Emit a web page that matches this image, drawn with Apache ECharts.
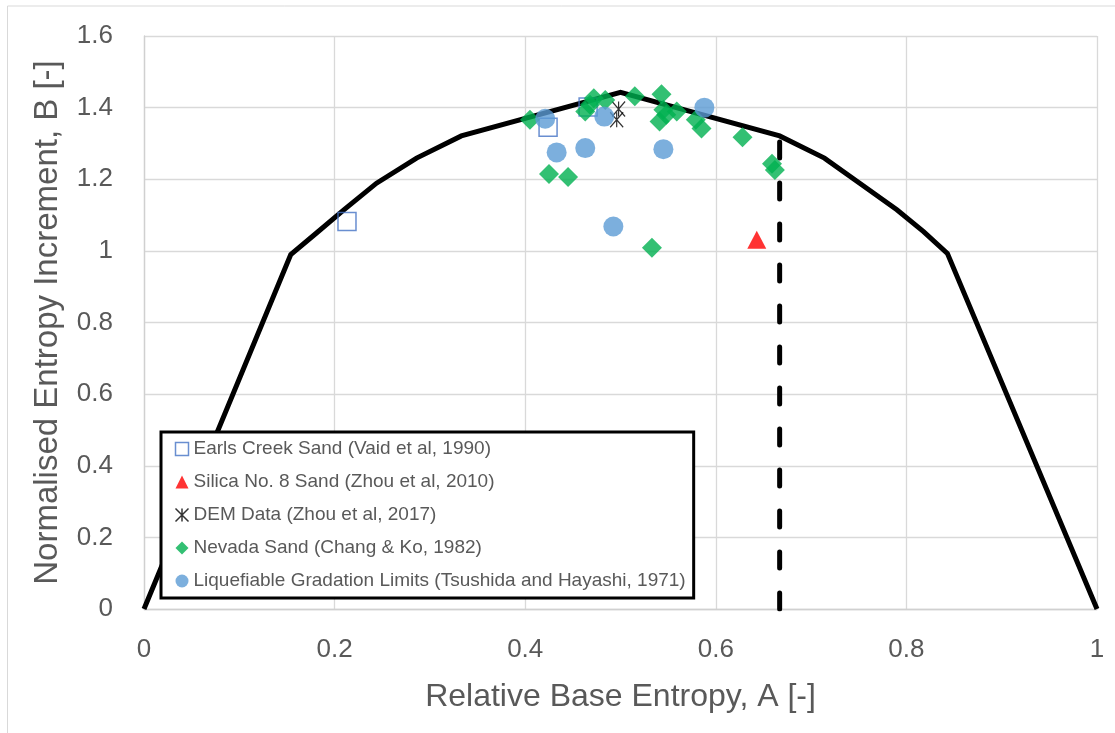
<!DOCTYPE html>
<html>
<head>
<meta charset="utf-8">
<script src="https://cdn.jsdelivr.net/npm/echarts@6/dist/echarts.min.js"></script>
<style>
html,body{margin:0;padding:0;background:#fff;}
#chart{width:1115px;height:733px;}
</style>
</head>
<body>
<div id="chart"></div>
<script>
// ---- Data ----
const xTicks = ['0', '0.2', '0.4', '0.6', '0.8', '1'];
const yTicks = ['0', '0.2', '0.4', '0.6', '0.8', '1', '1.2', '1.4', '1.6'];

// Boundary curve (A, B)
const curveA = [0, 0.154, 0.181, 0.21, 0.244, 0.286, 0.333, 0.5, 0.667, 0.714, 0.751, 0.79, 0.818, 0.843, 1];
const curveB = [0, 0.99, 1.05, 1.115, 1.189, 1.259, 1.321, 1.443, 1.321, 1.259, 1.189, 1.115, 1.054, 0.993, 0];

// Vertical dashed limit
const limitA = [0.667, 0.667];
const limitB = [0, 1.321];

// Earls Creek Sand (Vaid et al, 1990)
const earlsA = [0.213, 0.424, 0.466];
const earlsB = [1.082, 1.345, 1.402];

// Silica No. 8 Sand (Zhou et al, 2010)
const silicaA = [0.643];
const silicaB = [1.031];

// DEM Data (Zhou et al, 2017)
const demA = [0.498, 0.496];
const demB = [1.396, 1.366];

// Nevada Sand (Chang & Ko, 1982)
const nevadaA = [0.405, 0.425, 0.445, 0.463, 0.468, 0.472, 0.484, 0.515, 0.533, 0.541, 0.543, 0.545, 0.548, 0.559, 0.579, 0.585, 0.628, 0.659, 0.662];
const nevadaB = [1.366, 1.215, 1.206, 1.389, 1.408, 1.426, 1.421, 1.432, 1.009, 1.361, 1.437, 1.394, 1.38, 1.389, 1.366, 1.342, 1.317, 1.243, 1.226];

// Liquefiable Gradation Limits (Tsushida and Hayashi, 1971)
const liqA = [0.421, 0.433, 0.463, 0.483, 0.4925, 0.545, 0.588];
const liqB = [1.369, 1.275, 1.287, 1.375, 1.068, 1.284, 1.400];

const names = [
  'Earls Creek Sand (Vaid et al, 1990)',
  'Silica No. 8 Sand (Zhou et al, 2010)',
  'DEM Data (Zhou et al, 2017)',
  'Nevada Sand (Chang & Ko, 1982)',
  'Liquefiable Gradation Limits (Tsushida and Hayashi, 1971)'
];

const zip = (a, b) => a.map((v, i) => [v, b[i]]);

const FONT = 'Liberation Sans';
const TXT = '#595959';
const GRID = '#d9d9d9';

const chart = echarts.init(document.getElementById('chart'), null, {renderer: 'canvas'});

const option = {
  backgroundColor: '#fff',
  animation: false,
  textStyle: {fontFamily: FONT},
  graphic: [{
    type: 'rect',
    shape: {x: 7.5, y: 6, width: 1130, height: 750},
    style: {fill: 'none', stroke: '#d9d9d9', lineWidth: 1},
    silent: true,
    z: -10
  }],
  grid: {left: 144, right: 18, top: 36, bottom: 124, containLabel: false},
  xAxis: {
    type: 'value', min: 0, max: 1, interval: 0.2,
    name: 'Relative Base Entropy, A [-]',
    nameLocation: 'middle', nameGap: 72,
    nameTextStyle: {fontFamily: FONT, fontSize: 32, color: TXT},
    axisLine: {show: true, lineStyle: {color: '#d0d0d0', width: 1.3}},
    axisTick: {show: false},
    axisLabel: {
      fontFamily: FONT, fontSize: 26, color: TXT, margin: 28,
      formatter: (v) => xTicks[Math.round(v / 0.2)]
    },
    splitLine: {show: true, lineStyle: {color: GRID, width: 1.3}}
  },
  yAxis: {
    type: 'value', min: 0, max: 1.6, interval: 0.2,
    name: 'Normalised Entropy Increment, B [-]',
    nameLocation: 'middle', nameGap: 80, nameRotate: 90,
    nameTextStyle: {fontFamily: FONT, fontSize: 33, color: TXT},
    axisLine: {show: true, lineStyle: {color: '#d0d0d0', width: 1.3}},
    axisTick: {show: false},
    axisLabel: {
      fontFamily: FONT, fontSize: 26, color: TXT, margin: 31,
      formatter: (v) => yTicks[Math.round(v / 0.2)]
    },
    splitLine: {show: true, lineStyle: {color: GRID, width: 1.3}}
  },
  legend: {
    data: names,
    orient: 'vertical',
    left: 161, top: 432,
    padding: [7, 8, 7, 12],
    itemGap: 13,
    itemWidth: 13, itemHeight: 13,
    itemStyle: {borderWidth: 1.5},
    backgroundColor: '#fff',
    borderColor: '#000', borderWidth: 3, borderRadius: 0,
    textStyle: {fontFamily: FONT, fontSize: 19, color: TXT, lineHeight: 20, padding: [0, 0, 0, 0]},
    z: 10
  },
  series: [
    {
      name: 'curve', type: 'line', data: zip(curveA, curveB),
      showSymbol: false, symbol: 'none', silent: true,
      lineStyle: {color: '#000', width: 5, cap: 'butt', join: 'miter'},
      z: 1
    },
    {
      name: 'limit', type: 'line', data: zip(limitA, limitB),
      showSymbol: false, symbol: 'none', silent: true,
      lineStyle: {color: '#000', width: 5, type: [16, 25], cap: 'round'},
      z: 1
    },
    {
      name: names[0], type: 'scatter', data: zip(earlsA, earlsB),
      symbol: 'rect', symbolSize: 18,
      itemStyle: {color: 'rgba(255,255,255,0)', borderColor: '#4472C4', borderWidth: 1.5},
      z: 3
    },
    {
      name: names[1], type: 'scatter', data: zip(silicaA, silicaB),
      symbol: 'triangle', symbolSize: [19, 18],
      itemStyle: {color: '#FF0000'},
      z: 3
    },
    {
      name: names[2], type: 'scatter', data: zip(demA, demB),
      symbol: 'path://M0,0 L10,10 M10,0 L0,10 M5,0 L5,10', symbolSize: [13, 15],
      itemStyle: {color: 'none', borderColor: '#000', borderWidth: 1.3},
      z: 3
    },
    {
      name: names[3], type: 'scatter', data: zip(nevadaA, nevadaB),
      symbol: 'diamond', symbolSize: [20, 20],
      itemStyle: {color: '#00B050'},
      z: 3
    },
    {
      name: names[4], type: 'scatter', data: zip(liqA, liqB),
      symbol: 'circle', symbolSize: 20,
      itemStyle: {color: '#5B9BD5'},
      z: 3
    }
  ]
};
chart.setOption(option);
</script>
</body>
</html>
